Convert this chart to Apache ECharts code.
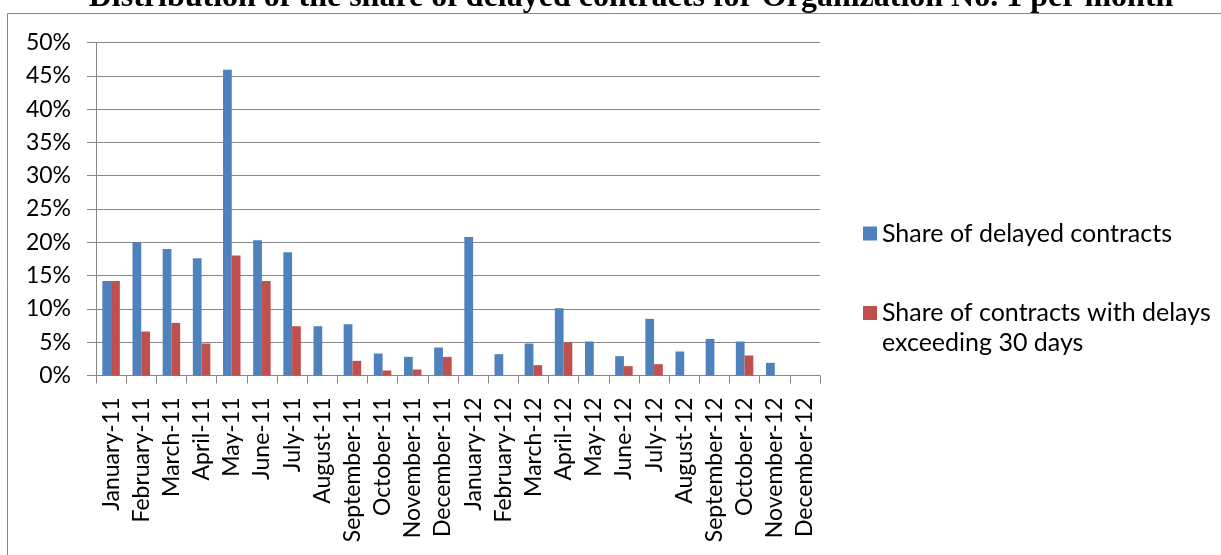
<!DOCTYPE html>
<html>
<head>
<meta charset="utf-8">
<script src="https://cdn.jsdelivr.net/npm/echarts@6/dist/echarts.min.js"></script>
<style>
  html, body { margin: 0; padding: 0; background: #ffffff; }
  #chart { width: 1221px; height: 555px; }
</style>
</head>
<body>
<div id="chart"></div>
<script>
// Months covered by the report
const months = [
  'January-11', 'February-11', 'March-11', 'April-11', 'May-11', 'June-11',
  'July-11', 'August-11', 'September-11', 'October-11', 'November-11', 'December-11',
  'January-12', 'February-12', 'March-12', 'April-12', 'May-12', 'June-12',
  'July-12', 'August-12', 'September-12', 'October-12', 'November-12', 'December-12'
];

// Share of delayed contracts, %
const delayedShare = [
  14.2, 20.0, 19.0, 17.6, 45.9, 20.3, 18.5, 7.4, 7.7, 3.3, 2.8, 4.2,
  20.8, 3.2, 4.8, 10.1, 5.1, 2.9, 8.5, 3.6, 5.5, 5.1, 1.9, 0
];

// Share of contracts delayed by more than 30 days, %
const over30Share = [
  14.2, 6.6, 7.9, 4.8, 18.0, 14.2, 7.4, 0, 2.2, 0.75, 0.9, 2.8,
  0, 0, 1.55, 5.0, 0, 1.4, 1.7, 0, 0, 3.0, 0, 0
];

const seriesNames = [
  'Share of delayed contracts',
  'Share of contracts with delays\nexceeding 30 days'
];

const titleText = 'Distribution of the share of delayed contracts for Organization No. 1 per month';

const axisGray = '#868686';
const labelFont = 'Lato';

const chart = echarts.init(document.getElementById('chart'), null, { renderer: 'canvas' });

chart.setOption({
  animation: false,
  backgroundColor: '#ffffff',
  graphic: [
    {
      type: 'rect',
      shape: { x: 7.5, y: 13.5, width: 1300, height: 700 },
      style: { fill: 'none', stroke: axisGray, lineWidth: 1 },
      silent: true
    },
    {
      type: 'text',
      x: 631,
      y: -2,
      style: {
        text: titleText,
        font: 'bold 32px "Liberation Serif"',
        fill: '#000000',
        align: 'center',
        verticalAlign: 'middle'
      },
      silent: true
    }
  ],
  legend: [
    {
      data: [seriesNames[0]],
      orient: 'vertical',
      left: 863,
      top: 219,
      padding: 0,
      icon: 'rect',
      itemWidth: 14,
      itemHeight: 14,
      textStyle: { fontFamily: labelFont, fontSize: 25, lineHeight: 29, color: '#000000' }
    },
    {
      data: [seriesNames[1]],
      orient: 'vertical',
      left: 863,
      top: 268,
      padding: 0,
      icon: 'rect',
      itemWidth: 14,
      itemHeight: 14,
      // a blank leading line keeps the swatch level with the first text line
      formatter: function (name) { return '\u00a0\n' + name; },
      textStyle: { fontFamily: labelFont, fontSize: 25, lineHeight: 30, color: '#000000' }
    }
  ],
  grid: { left: 96, right: 401, top: 42.5, bottom: 179.5, containLabel: false },
  xAxis: {
    type: 'category',
    data: months,
    boundaryGap: true,
    axisLine: { show: true, lineStyle: { color: axisGray, width: 1 } },
    axisTick: { show: true, alignWithLabel: false, length: 8, inside: false, lineStyle: { color: axisGray } },
    axisLabel: {
      interval: 0,
      rotate: 90,
      margin: 22,
      fontFamily: labelFont,
      fontSize: 23,
      color: '#000000'
    },
    splitLine: { show: false }
  },
  yAxis: {
    type: 'value',
    min: 0,
    max: 50,
    interval: 5,
    axisLine: { show: true, lineStyle: { color: axisGray, width: 1 } },
    axisTick: { show: true, length: 9, inside: false, lineStyle: { color: axisGray } },
    axisLabel: {
      formatter: '{value}%',
      margin: 25,
      fontFamily: labelFont,
      fontSize: 23,
      color: '#000000'
    },
    splitLine: { show: true, lineStyle: { color: axisGray, width: 1 } }
  },
  series: [
    {
      name: seriesNames[0],
      type: 'bar',
      data: delayedShare,
      barWidth: '29%',
      barGap: '0%',
      itemStyle: { color: '#4F81BD' }
    },
    {
      name: seriesNames[1],
      type: 'bar',
      data: over30Share,
      barWidth: '29%',
      barGap: '0%',
      itemStyle: { color: '#C0504D' }
    }
  ]
});
</script>
</body>
</html>
